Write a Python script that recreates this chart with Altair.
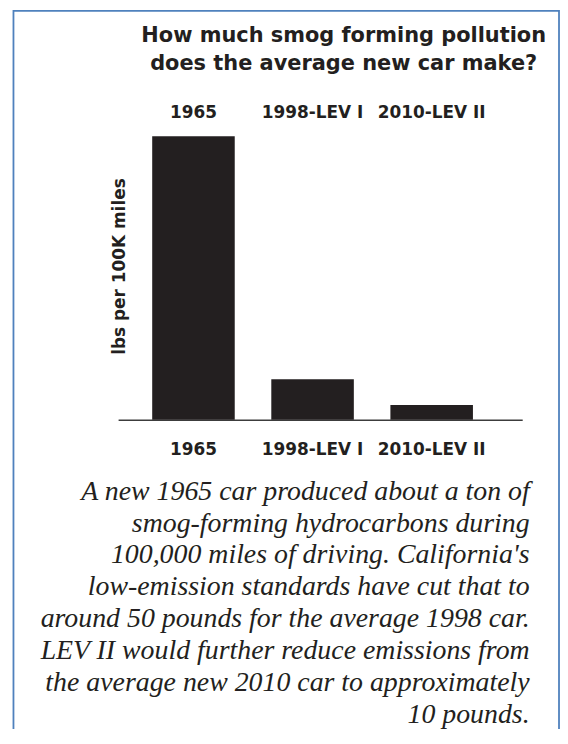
import altair as alt
import pandas as pd

# ---- data ----
categories = ["1965", "1998-LEV I", "2010-LEV II"]
lbs_per_100k_miles = [2000, 285, 103]

heading = ["How much smog forming pollution", "does the average new car make?"]
y_title = "lbs per 100K miles"
caption = [
    "A new 1965 car produced about a ton of",
    "smog-forming hydrocarbons during",
    "100,000 miles of driving. California's",
    "low-emission standards have cut that to",
    "around 50 pounds for the average 1998 car.",
    "LEV II would further reduce emissions from",
    "the average new 2010 car to approximately",
    "10 pounds.",
]

df = pd.DataFrame({"category": categories, "lbs": lbs_per_100k_miles})

INK = "#231f20"
FRAME = "#4f81bd"
W, H = 406.3, 285
PAD_L, PAD_T = 110.7, 127
SVG_W, SVG_H = 555, 721

x_scale = alt.Scale(paddingInner=0.307, paddingOuter=0.35, align=0.409)
y_scale = alt.Scale(domain=[0, 2000], nice=False)

bottom_axis = alt.Axis(
    orient="bottom", grid=False,
    domain=True, domainColor="#3c3c3c", domainWidth=1.5,
    ticks=False, tickSize=0,
    labelAngle=0, labelOverlap=False,
    labelFont="DejaVu Sans", labelFontWeight="bold", labelFontSize=17,
    labelColor=INK, labelBaseline="alphabetic", labelPadding=34.7,
    title=caption, titleFont="Liberation Serif", titleFontStyle="italic",
    titleFontWeight="normal", titleFontSize=28, titleColor=INK,
    titleLineHeight=32, titleAlign="right", titleBaseline="alphabetic",
    titleX=413.3, titleY=80,
)

top_axis = alt.Axis(
    orient="top", grid=False,
    domain=False, ticks=False, tickSize=0,
    labelAngle=0, labelOverlap=False,
    labelFont="DejaVu Sans", labelFontWeight="bold", labelFontSize=17,
    labelColor=INK, labelBaseline="alphabetic", labelPadding=19.3,
    title=heading, titleFont="DejaVu Sans", titleFontWeight="bold",
    titleFontSize=21, titleColor=INK, titleLineHeight=28.4,
    titleAlign="center", titleBaseline="alphabetic",
    titleX=226.3, titleY=-95.7,
)

y_axis = alt.Axis(
    domain=False, ticks=False, labels=False, grid=False,
    title=y_title, titleFont="DejaVu Sans", titleFontWeight="bold",
    titleFontSize=17, titleColor=INK, titleAngle=270,
    titleAlign="center", titleBaseline="alphabetic",
    titleX=6, titleY=130.5,
)

frame = alt.Chart(alt.Data(values=[{"frame": 1}])).mark_rect(
    fillOpacity=0, stroke=FRAME, strokeWidth=1.8
).encode(
    x=alt.value(-105.2), x2=alt.value(443.3),
    y=alt.value(-126), y2=alt.value(700),
)

bars = alt.Chart(df).mark_bar(color=INK).encode(
    x=alt.X("category:N", sort=categories, scale=x_scale, axis=bottom_axis),
    y=alt.Y("lbs:Q", scale=y_scale, axis=y_axis),
)

top_labels = alt.Chart(df).mark_point(opacity=0).encode(
    x=alt.X("category:N", sort=categories, scale=x_scale, axis=top_axis),
)

chart = alt.layer(frame, bars, top_labels).resolve_axis(
    x="independent"
).properties(
    width=W, height=H,
    padding={"left": PAD_L, "top": PAD_T,
             "right": SVG_W - PAD_L - W, "bottom": SVG_H - PAD_T - H},
    autosize=alt.AutoSizeParams(type="none"),
    background="white",
).configure_view(stroke=None)

chart.save("out.html", embed_options={"renderer": "svg", "actions": False})
